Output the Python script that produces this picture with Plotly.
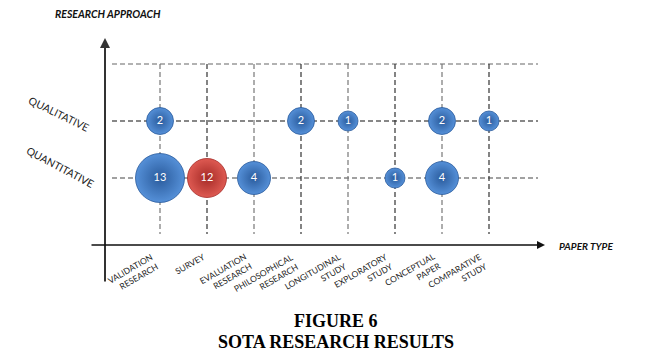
import plotly.graph_objects as go

# ---------------- data ----------------
paper_types = ["VALIDATION<br>RESEARCH", "SURVEY", "EVALUATION<br>RESEARCH",
               "PHILOSOPHICAL<br>RESEARCH", "LONGITUDINAL<br>STUDY", "EXPLORATORY<br>STUDY",
               "CONCEPTUAL<br>PAPER", "COMPARATIVE<br>STUDY"]
approaches = ["QUANTITATIVE", "QUALITATIVE"]

qual_types = [0, 3, 4, 6, 7]
qual_counts = [2, 2, 1, 2, 1]

quant_types = [0, 2, 5, 6]
quant_counts = [13, 4, 1, 4]

survey_types = [1]
survey_counts = [12]

# ---------------- style ----------------
diam = {1: 20, 2: 27, 4: 33, 12: 39, 13: 49}
BLUE_C, BLUE_E = "#5590D8", "#2A5B9C"
RED_C, RED_E = "#DE5A52", "#A52A26"

fig = go.Figure()

# axis ranges chosen so category index i -> px 160+47*i, approach j -> py 178-57*j
XR = [(0 - 160) / 47, (655 - 160) / 47]
YR = [(178 - 360) / 57, (178 - 0) / 57]
def px(x):
    return (x - 160) / 47
def py(y):
    return (178 - y) / 57

shapes = []
# horizontal dashed grid lines
for j, col in [(2, "#666666"), (1, "#111111"), (0, "#444444")]:
    shapes.append(dict(type="line", x0=px(112), x1=px(538), y0=j, y1=j,
                       line=dict(color=col, width=1.2, dash="5px,3px"), layer="below"))
# vertical dashed grid lines
for i in range(len(paper_types)):
    col = "#333333" if i % 2 == 1 else "#777777"
    shapes.append(dict(type="line", x0=i, x1=i, y0=2, y1=py(234),
                       line=dict(color=col, width=1.2, dash="5px,3px"), layer="below"))
fig.update_layout(shapes=shapes)

def add_bubbles(xs, ys, counts, c, e):
    fig.add_trace(go.Scatter(
        x=xs, y=ys, mode="markers+text",
        text=[str(v) for v in counts],
        textfont=dict(color="white", size=11, family="Lato"),
        textposition="middle center",
        marker=dict(size=[diam[v] for v in counts], color=c,
                    gradient=dict(type="radial", color=e),
                    line=dict(color=e, width=0.8), opacity=1),
        hoverinfo="skip", showlegend=False, cliponaxis=False))

add_bubbles(qual_types, [1] * len(qual_types), qual_counts, BLUE_C, BLUE_E)
add_bubbles(quant_types, [0] * len(quant_types), quant_counts, BLUE_C, BLUE_E)
add_bubbles(survey_types, [0] * len(survey_types), survey_counts, RED_C, RED_E)

ann = []
# axes with arrows
ann.append(dict(x=px(105), y=py(38), ax=px(105), ay=py(283), xref="x", yref="y",
                axref="x", ayref="y", showarrow=True, arrowhead=2, arrowsize=1,
                arrowwidth=2, arrowcolor="#333333", text=""))
ann.append(dict(x=px(545), y=py(245), ax=px(90), ay=py(245), xref="x", yref="y",
                axref="x", ayref="y", showarrow=True, arrowhead=2, arrowsize=1,
                arrowwidth=1.6, arrowcolor="#111111", text=""))
# axis titles
ann.append(dict(x=px(108), y=py(14), xref="x", yref="y", showarrow=False,
                text="<b><i>RESEARCH APPROACH</i></b>",
                font=dict(size=10.5, family="Lato", color="#111111")))
ann.append(dict(x=px(557), y=py(246), xref="x", yref="y", showarrow=False, xanchor="left",
                text="<b><i>PAPER TYPE</i></b>",
                font=dict(size=10, family="Lato", color="#111111")))
# y category labels
for j, name, cx, cy, ang in [(1, approaches[1], 59, 114, 26), (0, approaches[0], 60, 167, 28)]:
    ann.append(dict(x=px(cx), y=py(cy), xref="x", yref="y", showarrow=False,
                    text=name, textangle=ang,
                    font=dict(size=10.5, family="Lato", color="#222222")))
# x category labels
for i, name in enumerate(paper_types):
    ann.append(dict(x=i + 0.06, y=py(249), xref="x", yref="y", showarrow=False,
                    text=name, textangle=-30, xanchor="right", yanchor="top",
                    align="right",
                    font=dict(size=8.5, family="Lato", color="#222222")))
# figure caption
ann.append(dict(x=px(336), y=py(321), xref="x", yref="y", showarrow=False,
                text="<b>FIGURE 6</b>",
                font=dict(size=18, family="Liberation Serif", color="#000000")))
ann.append(dict(x=px(336), y=py(342), xref="x", yref="y", showarrow=False,
                text="<b>SOTA RESEARCH RESULTS</b>",
                font=dict(size=18, family="Liberation Serif", color="#000000")))

fig.update_layout(
    annotations=ann,
    width=655, height=360,
    margin=dict(l=0, r=0, t=0, b=0),
    paper_bgcolor="white", plot_bgcolor="white",
    xaxis=dict(range=XR, visible=False, fixedrange=True),
    yaxis=dict(range=YR, visible=False, fixedrange=True),
)

fig.write_html("out.html", config={"displayModeBar": False},
               post_script="document.body.style.margin='0px';")
